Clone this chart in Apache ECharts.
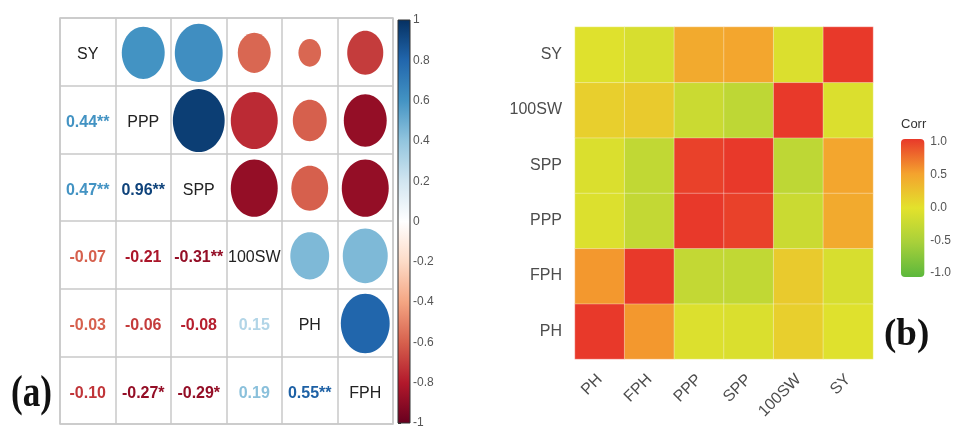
<!DOCTYPE html>
<html>
<head>
<meta charset="utf-8">
<script src="https://cdn.jsdelivr.net/npm/echarts@6/dist/echarts.min.js"></script>
<style>
html, body { margin: 0; padding: 0; background: #fff; }
#chart { width: 954px; height: 429px; }
</style>
</head>
<body>
<div id="chart"></div>
<script>
// panel (a): variables in the order of the corrplot
var vars = ['SY', 'PPP', 'SPP', '100SW', 'PH', 'FPH'];

// lower triangle: printed correlations, row i / col j (j < i)
var corrLower = [
	[],
	[0.44],
	[0.47, 0.96],
	[-0.07, -0.21, -0.31],
	[-0.03, -0.06, -0.08, 0.15],
	[-0.10, -0.27, -0.29, 0.19, 0.55]
];
var corrStars = [
	[],
	['**'],
	['**', '**'],
	['', '', '**'],
	['', '', '', ''],
	['', '*', '*', '', '**']
];
// colour shade of the printed numbers
var textShade = [
	[],
	[0.6],
	[0.6, 0.93],
	[-0.6, -0.82, -0.88],
	[-0.6, -0.7, -0.78, 0.3],
	[-0.72, -0.88, -0.88, 0.42, 0.82]
];

// upper triangle circles, row i / col j (j > i): colour shade and size strength
var circleShade = [
	[0.6, 0.62, -0.58, -0.58, -0.7],
	[0.95, -0.75, -0.6, -0.88],
	[-0.88, -0.6, -0.88],
	[0.45, 0.45],
	[0.8]
];
var circleSize = [
	[0.61, 0.76, 0.36, 0.17, 0.43],
	[0.89, 0.73, 0.38, 0.61],
	[0.73, 0.45, 0.73],
	[0.5, 0.67],
	[0.79]
];

// colour bar ticks of panel (a) and (b)
var barTicksA = { min: -1, max: 1, step: 0.2 };
var barTicksB = { min: -1, max: 1, step: 0.5 };

// panel (b): heatmap order (x left->right, y bottom->top)
var hmVars = ['PH', 'FPH', 'PPP', 'SPP', '100SW', 'SY'];

// palettes, evenly spread over -1..1
var rdbu = ['#67001F', '#B2182B', '#D6604D', '#F4A582', '#FDDBC7', '#FFFFFF',
	'#D1E5F0', '#92C5DE', '#4393C3', '#2166AC', '#053061'];
var greenRed = ['#5cb83c', '#a8d03a', '#e3e22c', '#f4a22e', '#e8392a'];

function hex2rgb(h) {
	return [parseInt(h.substr(1, 2), 16), parseInt(h.substr(3, 2), 16), parseInt(h.substr(5, 2), 16)];
}
function ramp(stops, v) {
	var t = (Math.max(-1, Math.min(1, v)) + 1) / 2 * (stops.length - 1);
	var k = Math.min(Math.floor(t), stops.length - 2);
	var f = t - k;
	var a = hex2rgb(stops[k]), b = hex2rgb(stops[k + 1]);
	var c = a.map(function(x, n) { return Math.round(x + (b[n] - x) * f); });
	return 'rgb(' + c.join(',') + ')';
}
function gradStops(stops) {
	// top of bar = +1
	return stops.slice().reverse().map(function(c, n) {
		return { offset: n / (stops.length - 1), color: c };
	});
}
function corrOf(a, b) {
	var i = vars.indexOf(a), j = vars.indexOf(b);
	if (i === j) return 1;
	if (i < j) { var t = i; i = j; j = t; }
	return corrLower[i][j];
}

// build series data
var circleData = [];
var textData = [];
for (var i = 0; i < vars.length; i++) {
	textData.push([i, i, vars[i], null]);
	for (var j = 0; j < vars.length; j++) {
		if (j > i) {
			circleData.push([j, i, circleShade[i][j - i - 1], circleSize[i][j - i - 1]]);
		} else if (j < i) {
			textData.push([j, i, corrLower[i][j].toFixed(2) + corrStars[i][j], textShade[i][j]]);
		}
	}
}
var heatData = [];
hmVars.forEach(function(xv, x) {
	hmVars.forEach(function(yv, y) {
		heatData.push([x, y, corrOf(xv, yv)]);
	});
});

var gridColor = '#c9c9c9';
var hidden = { show: false };

var myChart = echarts.init(document.getElementById('chart'));
var option = {
	animation: false,
	backgroundColor: '#fff',
	grid: [
		{ left: 60, top: 18, width: 333, height: 406, show: true, borderColor: gridColor, borderWidth: 1.5 },
		{ left: 398, top: 20, width: 12, height: 403 },
		{ left: 575, top: 27, width: 298, height: 332 },
		{ left: 901, top: 142, width: 24, height: 131 }
	],
	xAxis: [
		{
			type: 'category', gridIndex: 0, data: vars,
			axisLine: hidden, axisTick: hidden, axisLabel: hidden,
			splitLine: { show: true, interval: 0, lineStyle: { color: gridColor, width: 1.5 } }
		},
		{ type: 'value', gridIndex: 1, min: 0, max: 1, show: false },
		{
			type: 'category', gridIndex: 2, data: hmVars,
			axisLine: hidden, axisTick: hidden, splitLine: hidden,
			axisLabel: { interval: 0, rotate: 45, margin: 18, color: '#4d4d4d', fontSize: 16, fontFamily: 'Liberation Sans' }
		},
		{ type: 'value', gridIndex: 3, min: 0, max: 1, show: false }
	],
	yAxis: [
		{
			type: 'category', gridIndex: 0, data: vars, inverse: true,
			axisLine: hidden, axisTick: hidden, axisLabel: hidden,
			splitLine: { show: true, interval: 0, lineStyle: { color: gridColor, width: 1.5 } }
		},
		{
			type: 'value', gridIndex: 1, position: 'right',
			min: barTicksA.min, max: barTicksA.max, interval: barTicksA.step,
			axisLine: hidden, splitLine: hidden,
			axisTick: { show: true, length: 3, lineStyle: { color: '#333' } },
			axisLabel: { margin: 3, color: '#555', fontSize: 12, fontFamily: 'Liberation Sans',
				formatter: function(v) { return +v.toFixed(1) + ''; } }
		},
		{
			type: 'category', gridIndex: 2, data: hmVars,
			axisLine: hidden, axisTick: hidden, splitLine: hidden,
			axisLabel: { interval: 0, margin: 13, color: '#4d4d4d', fontSize: 16, fontFamily: 'Liberation Sans' }
		},
		{
			type: 'value', gridIndex: 3, position: 'right',
			min: barTicksB.min, max: barTicksB.max, interval: barTicksB.step,
			axisLine: hidden, axisTick: hidden, splitLine: hidden,
			axisLabel: { margin: 6, color: '#555', fontSize: 12, fontFamily: 'Liberation Sans',
				formatter: function(v) { return v.toFixed(1); } }
		}
	],
	visualMap: {
		show: false, seriesIndex: 3, dimension: 2, min: -1, max: 1,
		inRange: { color: greenRed }
	},
	graphic: [
		{ type: 'text', left: 11, top: 373, scaleX: 0.8,
			style: { text: '(a)', font: 'bold 44px "Liberation Serif"', fill: '#111' } },
		{ type: 'text', left: 884, top: 317,
			style: { text: '(b)', font: 'bold 37px "Liberation Serif"', fill: '#111' } },
		{ type: 'text', left: 901, top: 118,
			style: { text: 'Corr', font: '13px "Liberation Sans"', fill: '#333' } }
	],
	series: [
		{
			// circles of the upper triangle
			type: 'custom', xAxisIndex: 0, yAxisIndex: 0, data: circleData,
			renderItem: function(params, api) {
				var c = api.coord([api.value(0), api.value(1)]);
				var s = api.size([1, 1]);
				var rx = Math.sqrt(api.value(3)) * s[0] * 0.495;
				return {
					type: 'ellipse',
					shape: { cx: c[0], cy: c[1] + 1, rx: rx, ry: rx * s[1] / s[0] },
					style: { fill: ramp(rdbu, api.value(2)) }
				};
			}
		},
		{
			// names on the diagonal and numbers of the lower triangle
			type: 'custom', xAxisIndex: 0, yAxisIndex: 0, data: textData,
			renderItem: function(params, api) {
				var d = textData[params.dataIndex];
				var c = api.coord([d[0], d[1]]);
				var isName = d[3] === null;
				return {
					type: 'text',
					style: {
						text: d[2], x: c[0], y: c[1] + 3,
						align: 'center', verticalAlign: 'middle',
						textAlign: 'center', textVerticalAlign: 'middle',
						font: (isName ? '' : 'bold ') + '16px "Liberation Sans"',
						fill: isName ? '#222' : ramp(rdbu, d[3])
					}
				};
			}
		},
		{
			// colour bar of panel (a)
			type: 'custom', xAxisIndex: 1, yAxisIndex: 1, data: [[0]],
			renderItem: function(params, api) {
				var top = api.coord([0, barTicksA.max]);
				var bot = api.coord([0, barTicksA.min]);
				var w = api.size([1, 0])[0];
				return {
					type: 'rect',
					shape: { x: top[0], y: top[1], width: w, height: bot[1] - top[1] },
					style: {
						fill: new echarts.graphic.LinearGradient(0, 0, 0, 1, gradStops(rdbu)),
						stroke: '#333', lineWidth: 1
					}
				};
			}
		},
		{
			type: 'heatmap', xAxisIndex: 2, yAxisIndex: 2, data: heatData,
			itemStyle: { borderColor: 'rgba(255,255,255,0.35)', borderWidth: 1 },
			emphasis: { disabled: true }
		},
		{
			// colour bar of panel (b)
			type: 'custom', xAxisIndex: 3, yAxisIndex: 3, data: [[0]],
			renderItem: function(params, api) {
				var top = api.coord([0, barTicksB.max]);
				var bot = api.coord([0, barTicksB.min]);
				var w = api.size([1, 0])[0];
				return {
					type: 'rect',
					shape: { x: top[0], y: top[1] - 3, width: w, height: bot[1] - top[1] + 7, r: 4 },
					style: { fill: new echarts.graphic.LinearGradient(0, 0, 0, 1, gradStops(greenRed)) }
				};
			}
		}
	]
};
myChart.setOption(option);
</script>
</body>
</html>
